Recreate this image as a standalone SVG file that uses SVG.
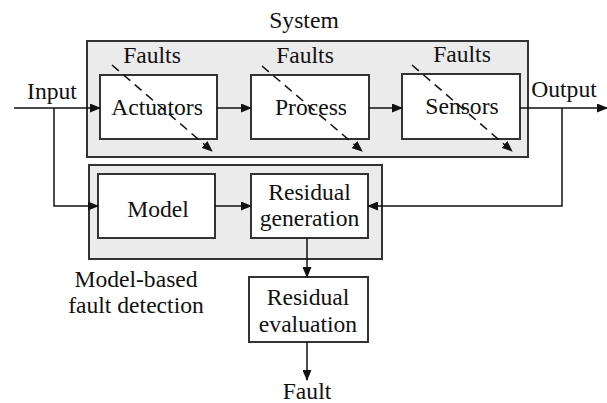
<svg xmlns="http://www.w3.org/2000/svg" width="607" height="403" viewBox="0 0 607 403">
<style>
text{font-family:"Liberation Serif","Times New Roman","DejaVu Serif",serif;font-size:23.6px;fill:#111;text-anchor:middle}
.grp{fill:#ebebeb;stroke:#333;stroke-width:2}
.box{fill:#fff;stroke:#333;stroke-width:2}
.ln{fill:none;stroke:#111;stroke-width:1.5;marker-end:url(#ah)}
.dash{fill:none;stroke:#111;stroke-width:1.5;stroke-dasharray:9 6;marker-end:url(#ah)}
</style>
<defs>
<marker id="ah" markerUnits="userSpaceOnUse" markerWidth="11" markerHeight="9" refX="10" refY="4.5" orient="auto">
<path d="M0,0 L11,4.5 L0,9 z" fill="#111"/>
</marker>
</defs>
<g id="system">
<rect class="grp" x="87" y="41" width="441" height="116"/>
<text x="304" y="28">System</text>
</g>
<g id="mbfd">
<rect class="grp" x="89" y="165" width="293" height="94"/>
<text x="136" y="287">Model-based</text>
<text x="136" y="313">fault detection</text>
</g>
<g id="actuators">
<rect class="box" x="100" y="75" width="117" height="64"/>
<text x="157" y="115">Actuators</text>
</g>
<g id="process">
<rect class="box" x="251" y="75" width="118" height="64"/>
<text x="311" y="115">Process</text>
</g>
<g id="sensors">
<rect class="box" x="402" y="74" width="118" height="65"/>
<text x="462" y="114">Sensors</text>
</g>
<g id="model">
<rect class="box" x="98" y="174" width="117" height="64"/>
<text x="158" y="217">Model</text>
</g>
<g id="resgen">
<rect class="box" x="251" y="174" width="117" height="64"/>
<text x="309.5" y="200">Residual</text>
<text x="309.5" y="226">generation</text>
</g>
<g id="reseval">
<rect class="box" x="249" y="277" width="119" height="65"/>
<text x="308" y="305">Residual</text>
<text x="308" y="332">evaluation</text>
</g>
<g id="labels">
<text x="52" y="99">Input</text>
<text x="564" y="97">Output</text>
<text x="152" y="63">Faults</text>
<text x="305" y="63">Faults</text>
<text x="462" y="62">Faults</text>
<text x="307" y="399">Fault</text>
</g>
<g id="connectors">
<path class="ln" d="M14,108 H100"/>
<path class="ln" d="M54,108 V206 H98"/>
<path class="ln" d="M217,108 H251"/>
<path class="ln" d="M369,108 H402"/>
<path class="ln" d="M520,108 H607"/>
<path class="ln" d="M562,108 V206 H368"/>
<path class="ln" d="M215,206 H251"/>
<path class="ln" d="M307,238 V277"/>
<path class="ln" d="M307,342 V380"/>
<path class="dash" d="M112,65 L212,151"/>
<path class="dash" d="M262,66 L362,151"/>
<path class="dash" d="M412,65 L512,151"/>
</g>
</svg>
